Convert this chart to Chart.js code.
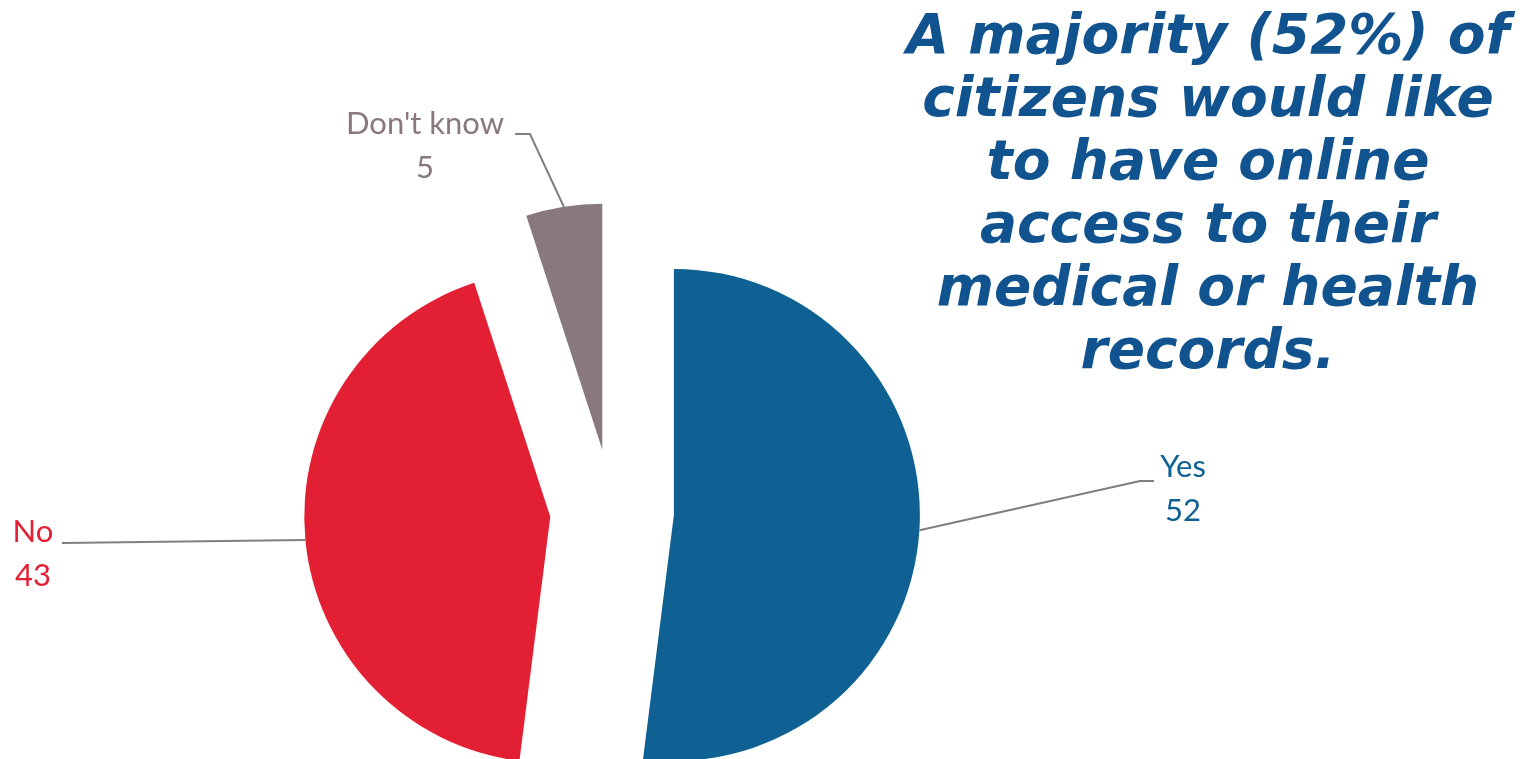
<!DOCTYPE html>
<html>
<head>
<meta charset="utf-8">
<script src="https://cdn.jsdelivr.net/npm/chart.js@4/dist/chart.umd.min.js"></script>
<style>
  html, body { margin: 0; padding: 0; background: #fff; overflow: hidden; }
  #wrap { position: relative; width: 1538px; height: 759px; overflow: hidden; }
  #pieChart { position: absolute; left: 0; top: 0; }
  #headline {
    position: absolute; left: 878px; top: 3px; width: 660px;
    text-align: center; color: #11538f;
    font: italic bold 55px/63px "DejaVu Sans", Verdana, sans-serif;
  }
</style>
</head>
<body>
<div id="wrap">
  <canvas id="pieChart" width="1538" height="1022"></canvas>
  <div id="headline">A majority (52%) of<br>citizens would like<br>to have online<br>access to their<br>medical or health<br>records.</div>
</div>
<script>
const categories = ['Yes', 'No', "Don't know"];
const shares = [52, 43, 5];
const sliceColors = ['#0e6192', '#e32033', '#89797d'];

// where each label text sits and how its leader line bends
const labelSpots = [
    { elbow: [1140, 481], end: [1154, 481], text: [1183, 477] },
    { elbow: null, end: [62, 543], text: [33, 542] },
    { elbow: [530, 134], end: [515, 134], text: [425, 134] }
];

// how far every slice is pulled out from the centre
const EXPLODE = 62;

// draw each slice shifted along its bisector, keeping radius and angles as they are
const explodedSlices = {
    id: 'explodedSlices',
    beforeDatasetDraw(chart, args) {
        const ctx = chart.ctx;
        args.meta.data.forEach(arc => {
            const mid = (arc.startAngle + arc.endAngle) / 2;
            ctx.save();
            ctx.translate(Math.cos(mid) * EXPLODE, Math.sin(mid) * EXPLODE);
            arc.draw(ctx);
            ctx.restore();
        });
        return false;
    }
};

const leaderLabels = {
    id: 'leaderLabels',
    afterDatasetsDraw(chart) {
        const ctx = chart.ctx;
        const arcs = chart.getDatasetMeta(0).data;
        arcs.forEach((arc, i) => {
            const p = arc.getProps(['x', 'y', 'startAngle', 'endAngle', 'outerRadius'], true);
            const mid = (p.startAngle + p.endAngle) / 2;
            const r = p.outerRadius + EXPLODE;
            const ax = p.x + Math.cos(mid) * r;
            const ay = p.y + Math.sin(mid) * r;
            const spot = labelSpots[i];

            ctx.save();
            ctx.strokeStyle = '#7f7f7f';
            ctx.lineWidth = 2;
            ctx.beginPath();
            ctx.moveTo(ax, ay);
            if (spot.elbow) ctx.lineTo(spot.elbow[0], spot.elbow[1]);
            ctx.lineTo(spot.end[0], spot.end[1]);
            ctx.stroke();

            ctx.fillStyle = sliceColors[i];
            ctx.font = '31px Lato, "Open Sans", sans-serif';
            ctx.textAlign = 'center';
            ctx.textBaseline = 'alphabetic';
            ctx.fillText(categories[i], spot.text[0], spot.text[1]);
            ctx.fillText(String(shares[i]), spot.text[0], spot.text[1] + 44);
            ctx.restore();
        });
    }
};

new Chart(document.getElementById('pieChart'), {
    type: 'pie',
    data: {
        labels: categories,
        datasets: [{
            data: shares,
            backgroundColor: sliceColors,
            borderWidth: 0,
            offset: 0
        }]
    },
    options: {
        responsive: false,
        animation: false,
        radius: 246,
        layout: { padding: { left: 0, right: 314, top: 0, bottom: 0 } },
        plugins: {
            legend: { display: false },
            tooltip: { enabled: false }
        }
    },
    plugins: [explodedSlices, leaderLabels]
});
</script>
</body>
</html>
